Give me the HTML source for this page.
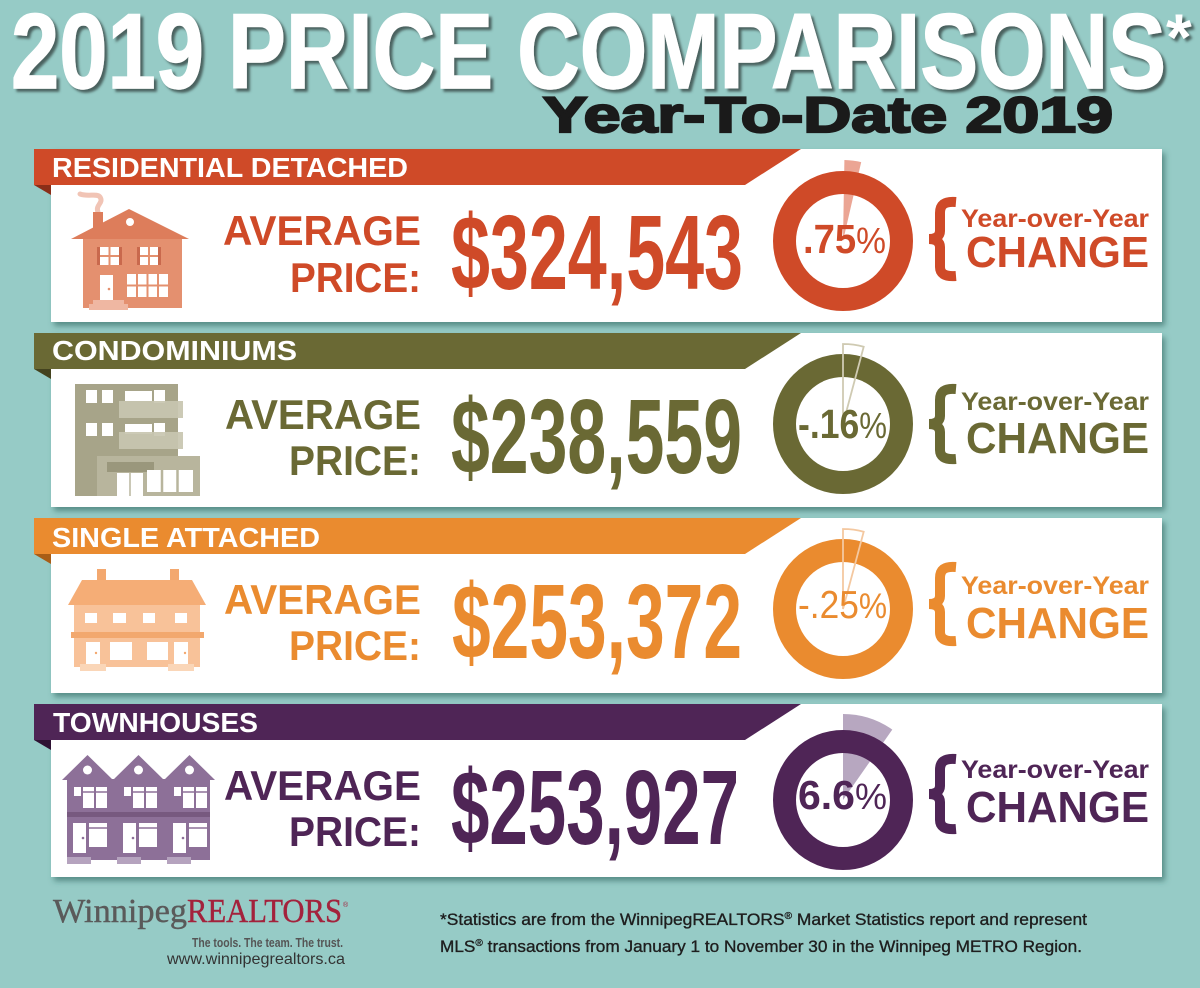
<!DOCTYPE html>
<html><head><meta charset="utf-8">
<style>
html,body{margin:0;padding:0;background:#96cbc6;width:1200px;height:988px;overflow:hidden;}
svg{display:block;}
.n{font-family:"Liberation Sans Narrow","Liberation Sans",sans-serif;}
.s{font-family:"Liberation Sans",sans-serif;}
.sf{font-family:"Liberation Serif",serif;}
</style></head><body>
<svg width="1200" height="988" viewBox="0 0 1200 988" xmlns="http://www.w3.org/2000/svg">
<defs>
<filter id="ts" x="-5%" y="-20%" width="110%" height="150%"><feDropShadow dx="3" dy="3" stdDeviation="1.2" flood-color="#3e4f4e" flood-opacity="0.85"/></filter>
<filter id="cs" x="-5%" y="-10%" width="110%" height="130%"><feDropShadow dx="3" dy="4" stdDeviation="3" flood-color="#2e625f" flood-opacity="0.6"/></filter>
</defs>
<rect width="1200" height="988" fill="#96cbc6"/>

<!-- Title -->
<g filter="url(#ts)">
<text class="n" x="11" y="88" font-size="107" font-weight="bold" fill="#fff" stroke="#fff" stroke-width="1.4" textLength="1155" lengthAdjust="spacingAndGlyphs">2019 PRICE COMPARISONS</text>
<text class="s" x="1166" y="60" font-size="66" font-weight="bold" fill="#fff">*</text>
</g>
<text class="s" x="543" y="132" font-size="50" font-weight="bold" fill="#1a1a1a" stroke="#1a1a1a" stroke-width="2.2" textLength="570" lengthAdjust="spacingAndGlyphs">Year-To-Date 2019</text>

<!-- ========== Panel 1 ========== -->
<g filter="url(#cs)"><rect x="51" y="149" width="1111" height="173" fill="#fff"/></g>
<polygon points="34,149 801,149 745,185 34,185" fill="#cf4a28"/>
<polygon points="34,185 51,185 51,195" fill="#8a2e18"/>
<text class="s" x="52" y="177" font-size="28" font-weight="bold" fill="#fff" textLength="356" lengthAdjust="spacingAndGlyphs">RESIDENTIAL DETACHED</text>
<!-- house icon -->
<path d="M98,212 C95,205 104,203 100,197 C97,193 88,197 80,194" stroke="#f1c4b5" stroke-width="5" fill="none" stroke-linecap="round"/>
<rect x="93" y="212" width="10" height="22" fill="#dd7d5b"/>
<polygon points="71,239 129,209 189,239" fill="#dd7d5b"/>
<circle cx="130" cy="222" r="4" fill="#fff"/>
<rect x="83" y="239" width="99" height="69" fill="#e4906f"/>
<rect x="97" y="247" width="25" height="18" fill="#c9694d"/>
<rect x="100" y="247" width="19" height="18" fill="#fff"/>
<rect x="137" y="247" width="24" height="18" fill="#c9694d"/>
<rect x="140" y="247" width="18" height="18" fill="#fff"/>
<path d="M109.5,247V265M100,256H119M149,247V265M140,256H158" stroke="#e4906f" stroke-width="2"/>
<rect x="100" y="275" width="13" height="27" fill="#fff"/>
<circle cx="109" cy="289" r="1.3" fill="#e4906f"/>
<rect x="127" y="274" width="41" height="23" fill="#fff"/>
<path d="M137,274V297M147.5,274V297M158,274V297M127,285.5H168" stroke="#e4906f" stroke-width="2"/>
<rect x="93" y="300" width="31" height="5" fill="#efb7a2"/>
<rect x="89" y="304" width="39" height="6" fill="#efb7a2"/>
<!-- texts -->
<text class="s" x="223" y="245" font-size="42" font-weight="bold" fill="#cf4a28" textLength="198" lengthAdjust="spacingAndGlyphs">AVERAGE</text>
<text class="s" x="290" y="292" font-size="42" font-weight="bold" fill="#cf4a28" textLength="131" lengthAdjust="spacingAndGlyphs">PRICE:</text>
<text class="n" x="451" y="289" font-size="106" font-weight="bold" fill="#cf4a28" textLength="292" lengthAdjust="spacingAndGlyphs">$324,543</text>
<path d="M843,241 L844.4,160 A81,81 0 0 1 861.2,162.1 Z" fill="#eba594"/>
<circle cx="843" cy="241" r="58.5" fill="none" stroke="#cf4a28" stroke-width="23"/>
<text class="n" x="803" y="253" font-size="41" fill="#cf4a28" textLength="83" lengthAdjust="spacingAndGlyphs"><tspan font-weight="bold">.75</tspan><tspan font-size="36">%</tspan></text>
<path d="M956,202 C944,201 940,205 940,213 L940,231 C940,236 936,239 929,239 C936,239 940,242 940,247 L940,267 C940,273 944,277 956,276" stroke="#cf4a28" stroke-width="10" fill="none"/>
<text class="s" x="961" y="227" font-size="25" font-weight="bold" fill="#cf4a28" textLength="188" lengthAdjust="spacingAndGlyphs">Year-over-Year</text>
<text class="s" x="966" y="267" font-size="44" font-weight="bold" fill="#cf4a28" textLength="183" lengthAdjust="spacingAndGlyphs">CHANGE</text>

<!-- ========== Panel 2 ========== -->
<g filter="url(#cs)"><rect x="51" y="333" width="1111" height="174" fill="#fff"/></g>
<polygon points="34,333 801,333 745,369 34,369" fill="#6a6934"/>
<polygon points="34,369 51,369 51,379" fill="#44431f"/>
<text class="s" x="52" y="360" font-size="28" font-weight="bold" fill="#fff" textLength="245" lengthAdjust="spacingAndGlyphs">CONDOMINIUMS</text>
<!-- condo icon -->
<rect x="75" y="384" width="103" height="112" fill="#a7a489"/>
<g fill="#fff">
<rect x="86" y="390" width="11" height="13"/><rect x="102" y="390" width="11" height="13"/>
<rect x="125" y="391" width="27" height="10"/><rect x="154" y="390" width="11" height="13"/>
<rect x="86" y="423" width="11" height="13"/><rect x="102" y="423" width="11" height="13"/>
<rect x="125" y="424" width="27" height="10"/><rect x="154" y="423" width="11" height="13"/>
</g>
<rect x="119" y="401" width="64" height="17" fill="#c8c5b0" opacity="0.92"/>
<rect x="119" y="432" width="64" height="17" fill="#c8c5b0" opacity="0.92"/>
<rect x="97" y="456" width="103" height="40" fill="#b8b59d"/>
<rect x="107" y="462" width="47" height="10" fill="#9a977c"/>
<rect x="117" y="473" width="26" height="23" fill="#fff"/>
<path d="M130,473V496" stroke="#b8b59d" stroke-width="1.5"/>
<rect x="147" y="470" width="46" height="22" fill="#fff"/>
<path d="M162,470V492M177.5,470V492" stroke="#b8b59d" stroke-width="2.5"/>
<!-- texts -->
<text class="s" x="225" y="429" font-size="42" font-weight="bold" fill="#6a6934" textLength="196" lengthAdjust="spacingAndGlyphs">AVERAGE</text>
<text class="s" x="289" y="475" font-size="42" font-weight="bold" fill="#6a6934" textLength="132" lengthAdjust="spacingAndGlyphs">PRICE:</text>
<text class="n" x="451" y="473" font-size="106" font-weight="bold" fill="#6a6934" textLength="291" lengthAdjust="spacingAndGlyphs">$238,559</text>
<circle cx="843" cy="424" r="58.5" fill="none" stroke="#6a6934" stroke-width="23"/>
<path d="M843,424 L843,344 A80,80 0 0 1 863.7,346.7 Z" fill="none" stroke="#cfcab2" stroke-width="1.8"/>
<text class="n" x="798" y="438" font-size="41" fill="#6a6934" textLength="89" lengthAdjust="spacingAndGlyphs"><tspan font-weight="bold">-.16</tspan><tspan font-size="36">%</tspan></text>
<path d="M956,389 C944,388 940,392 940,400 L940,416 C940,421 936,424 929,424 C936,424 940,427 940,432 L940,450 C940,456 944,460 956,459" stroke="#6a6934" stroke-width="10" fill="none"/>
<text class="s" x="961" y="410" font-size="25" font-weight="bold" fill="#6a6934" textLength="188" lengthAdjust="spacingAndGlyphs">Year-over-Year</text>
<text class="s" x="966" y="453" font-size="44" font-weight="bold" fill="#6a6934" textLength="183" lengthAdjust="spacingAndGlyphs">CHANGE</text>

<!-- ========== Panel 3 ========== -->
<g filter="url(#cs)"><rect x="51" y="518" width="1111" height="175" fill="#fff"/></g>
<polygon points="34,518 801,518 745,554 34,554" fill="#ea8b2f"/>
<polygon points="34,554 51,554 51,564" fill="#a85d16"/>
<text class="s" x="52" y="547" font-size="28" font-weight="bold" fill="#fff" textLength="268" lengthAdjust="spacingAndGlyphs">SINGLE ATTACHED</text>
<!-- single attached icon -->
<rect x="97" y="569" width="9" height="14" fill="#f3a86f"/>
<rect x="170" y="569" width="9" height="14" fill="#f3a86f"/>
<polygon points="82,580 192,580 206,605 68,605" fill="#f5ad76"/>
<rect x="74" y="605" width="126" height="62" fill="#f8c299"/>
<g fill="#fff">
<rect x="85" y="613" width="12" height="10"/><rect x="113" y="613" width="13" height="10"/>
<rect x="143" y="613" width="12" height="10"/><rect x="175" y="613" width="12" height="10"/>
<rect x="86" y="642" width="14" height="22"/><rect x="110" y="642" width="22" height="18"/>
<rect x="147" y="642" width="21" height="18"/><rect x="174" y="642" width="14" height="22"/>
</g>
<rect x="71" y="632" width="133" height="6" fill="#f2a86e"/>
<circle cx="96" cy="653" r="1.2" fill="#f3a86f"/><circle cx="185" cy="653" r="1.2" fill="#f3a86f"/>
<rect x="80" y="664" width="26" height="7" fill="#fad6b8"/>
<rect x="168" y="664" width="26" height="7" fill="#fad6b8"/>
<!-- texts -->
<text class="s" x="224" y="614" font-size="42" font-weight="bold" fill="#ea8b2f" textLength="197" lengthAdjust="spacingAndGlyphs">AVERAGE</text>
<text class="s" x="289" y="660" font-size="42" font-weight="bold" fill="#ea8b2f" textLength="132" lengthAdjust="spacingAndGlyphs">PRICE:</text>
<text class="n" x="452" y="658" font-size="106" font-weight="bold" fill="#ea8b2f" textLength="290" lengthAdjust="spacingAndGlyphs">$253,372</text>
<circle cx="843" cy="609" r="58.5" fill="none" stroke="#ea8b2f" stroke-width="23"/>
<path d="M843,609 L843,529 A80,80 0 0 1 863.7,531.7 Z" fill="none" stroke="#f4c8a0" stroke-width="1.8"/>
<text class="n" x="798" y="618" font-size="39" fill="#ea8b2f" textLength="89" lengthAdjust="spacingAndGlyphs">-.25<tspan font-size="35">%</tspan></text>
<path d="M956,567 C944,566 940,570 940,578 L940,596 C940,601 936,604 929,604 C936,604 940,607 940,612 L940,632 C940,638 944,642 956,641" stroke="#ea8b2f" stroke-width="10" fill="none"/>
<text class="s" x="961" y="594" font-size="25" font-weight="bold" fill="#ea8b2f" textLength="188" lengthAdjust="spacingAndGlyphs">Year-over-Year</text>
<text class="s" x="966" y="638" font-size="44" font-weight="bold" fill="#ea8b2f" textLength="183" lengthAdjust="spacingAndGlyphs">CHANGE</text>

<!-- ========== Panel 4 ========== -->
<g filter="url(#cs)"><rect x="51" y="704" width="1111" height="173" fill="#fff"/></g>
<polygon points="34,704 801,704 745,740 34,740" fill="#4f2556"/>
<polygon points="34,740 51,740 51,750" fill="#2e1233"/>
<text class="s" x="53" y="732" font-size="28" font-weight="bold" fill="#fff" textLength="205" lengthAdjust="spacingAndGlyphs">TOWNHOUSES</text>
<!-- townhouses icon -->
<g fill="#8d7098">
<polygon points="62,780 87.5,755 113,780"/>
<polygon points="113,780 138.5,755 164,780"/>
<polygon points="164,780 189.5,755 215,780"/>
<rect x="67" y="779" width="143" height="81"/>
</g>
<rect x="67" y="812" width="143" height="5" fill="#77597f"/>
<g fill="#fff">
<circle cx="87.5" cy="770" r="4.5"/><circle cx="138.5" cy="770" r="4.5"/><circle cx="189.5" cy="770" r="4.5"/>
<rect x="74" y="787" width="7" height="9"/><rect x="83" y="787" width="11" height="21"/><rect x="96" y="787" width="11" height="21"/>
<rect x="124" y="787" width="7" height="9"/><rect x="133" y="787" width="11" height="21"/><rect x="146" y="787" width="11" height="21"/>
<rect x="174" y="787" width="7" height="9"/><rect x="183" y="787" width="11" height="21"/><rect x="196" y="787" width="11" height="21"/>
<rect x="73" y="823" width="13" height="30"/><rect x="89" y="823" width="18" height="24"/>
<rect x="123" y="823" width="13" height="30"/><rect x="139" y="823" width="18" height="24"/>
<rect x="173" y="823" width="13" height="30"/><rect x="189" y="823" width="18" height="24"/>
</g>
<path d="M83,792H107M133,792H157M183,792H207M89,828H107M139,828H157M189,828H207" stroke="#8d7098" stroke-width="1.5"/>
<g fill="#8d7098"><circle cx="83" cy="838" r="1.3"/><circle cx="133" cy="838" r="1.3"/><circle cx="183" cy="838" r="1.3"/></g>
<g fill="#b5a3be">
<rect x="67" y="857" width="24" height="7"/><rect x="117" y="857" width="24" height="7"/><rect x="167" y="857" width="24" height="7"/>
</g>
<!-- texts -->
<text class="s" x="224" y="800" font-size="42" font-weight="bold" fill="#4f2556" textLength="197" lengthAdjust="spacingAndGlyphs">AVERAGE</text>
<text class="s" x="289" y="846" font-size="42" font-weight="bold" fill="#4f2556" textLength="132" lengthAdjust="spacingAndGlyphs">PRICE:</text>
<text class="n" x="451" y="844" font-size="106" font-weight="bold" fill="#4f2556" textLength="288" lengthAdjust="spacingAndGlyphs">$253,927</text>
<path d="M843,800 L843,714 A86,86 0 0 1 892.3,729.6 Z" fill="#b7a7c0"/>
<circle cx="843" cy="800" r="58.5" fill="none" stroke="#4f2556" stroke-width="23"/>
<text class="n" x="798" y="809" font-size="41" fill="#4f2556" textLength="89" lengthAdjust="spacingAndGlyphs"><tspan font-weight="bold">6.6</tspan><tspan font-size="36">%</tspan></text>
<path d="M956,759 C944,758 940,762 940,770 L940,786 C940,791 936,794 929,794 C936,794 940,797 940,802 L940,820 C940,826 944,830 956,829" stroke="#4f2556" stroke-width="10" fill="none"/>
<text class="s" x="961" y="778" font-size="25" font-weight="bold" fill="#4f2556" textLength="188" lengthAdjust="spacingAndGlyphs">Year-over-Year</text>
<text class="s" x="966" y="822" font-size="44" font-weight="bold" fill="#4f2556" textLength="183" lengthAdjust="spacingAndGlyphs">CHANGE</text>

<!-- ========== Footer ========== -->
<text class="sf" x="53" y="922" font-size="34" fill="#5a5a5a" stroke="#5a5a5a" stroke-width="0.4" textLength="134" lengthAdjust="spacingAndGlyphs">Winnipeg</text>
<text class="sf" x="187" y="922" font-size="34" fill="#a3223c" stroke="#a3223c" stroke-width="0.4" textLength="155" lengthAdjust="spacingAndGlyphs">REALTORS</text>
<text class="s" x="343" y="907" font-size="7" fill="#a3223c">®</text>
<text class="n" x="192" y="947" font-size="13" font-weight="bold" fill="#555" textLength="151" lengthAdjust="spacingAndGlyphs">The tools. The team. The trust.</text>
<text class="s" x="167" y="964" font-size="16" fill="#333" textLength="178" lengthAdjust="spacingAndGlyphs">www.winnipegrealtors.ca</text>

<text class="n" x="440" y="925" font-size="17" fill="#1e1e1e" stroke="#1e1e1e" stroke-width="0.35" textLength="647" lengthAdjust="spacingAndGlyphs">*Statistics are from the WinnipegREALTORS<tspan font-size="10" dy="-6">®</tspan><tspan dy="6"> Market Statistics report and represent</tspan></text>
<text class="n" x="440" y="952" font-size="17" fill="#1e1e1e" stroke="#1e1e1e" stroke-width="0.35" textLength="642" lengthAdjust="spacingAndGlyphs">MLS<tspan font-size="10" dy="-6">®</tspan><tspan dy="6"> transactions from January 1 to November 30 in the Winnipeg METRO Region.</tspan></text>
</svg>
</body></html>
